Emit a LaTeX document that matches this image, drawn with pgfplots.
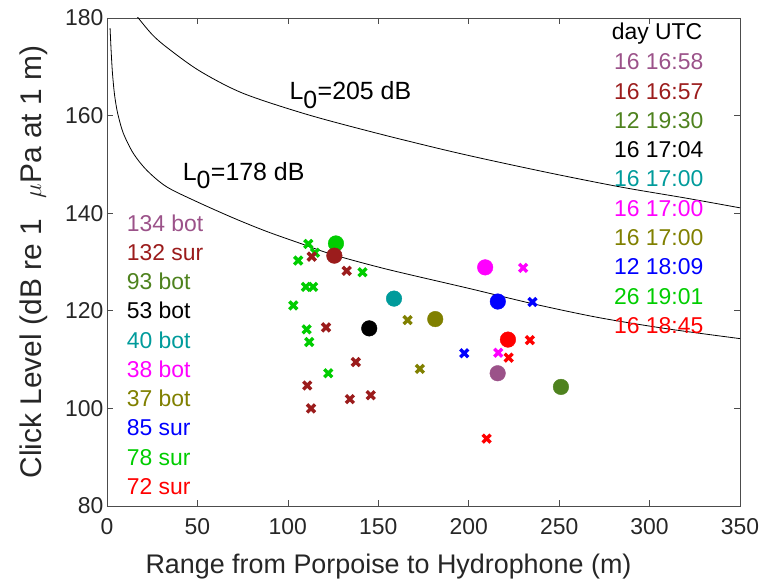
\documentclass[border=0pt]{standalone}
\usepackage{fontspec}
\setmainfont{Liberation Sans}
\usepackage{pgfplots}
\pgfplotsset{compat=1.18}
\definecolor{cPurp}{RGB}{155,82,137}
\definecolor{cDRed}{RGB}{155,28,28}
\definecolor{cOGrn}{RGB}{78,130,30}
\definecolor{cTeal}{RGB}{0,155,155}
\definecolor{cMag}{RGB}{255,0,255}
\definecolor{cOliv}{RGB}{128,128,0}
\definecolor{cBlue}{RGB}{0,0,255}
\definecolor{cGrn}{RGB}{0,205,0}
\definecolor{cRed}{RGB}{255,0,0}
\definecolor{cTxt}{RGB}{38,38,38}
\newcommand{\lf}{\fontsize{23}{27}\selectfont}
\pgfplotsset{
  crs/.style={only marks, mark=x, mark size=5.6bp, line width=3.4bp, mark options={solid, line width=3.4bp}},
  dot/.style={only marks, mark=*, mark size=7.8bp},
}
\begin{document}
\begin{tikzpicture}
\begin{axis}[name=ax,
  width=633bp, height=488bp, scale only axis,
  xmin=0, xmax=350, ymin=80, ymax=180,
  xtick={0,50,...,350}, ytick={80,100,...,180},
  tick align=inside, major tick length=6bp,
  axis line style={black!70, line width=0.7bp},
  tick style={black!70, line width=0.7bp},
  /pgf/number format/assume math mode=true,
  ticklabel style={font=\fontsize{23}{27}\selectfont, text=cTxt},
  xticklabel style={yshift=-9bp},
  xlabel={Range from Porpoise to Hydrophone (m)},
  ylabel={Click Level (dB re 1\hspace{0.7em}$\mu$Pa at 1 m)},
  xlabel style={font=\fontsize{27}{31}\selectfont, text=cTxt, yshift=-12bp, xshift=-35bp},
  ylabel style={font=\fontsize{30}{34}\selectfont, text=cTxt, yshift=11bp},
]
% model curves
\addplot[black, line width=0.8bp, smooth, tension=0.5] coordinates {
(1.7,177.9) (2.3,173.2) (3.0,168.8) (4.0,164.8) (5.0,162.2) (6.2,160.0) (9,156.4) (14.5,152.3) (22,148.8) (33,145.4) (50,142.3) (70,139.0) (88,136.3) (107,133.8) (125,131.5) (155,128.5) (200,124.6) (236,121.4) (272,118.6) (310,116.3) (350,114.3)};
\addplot[black, line width=0.8bp, smooth, tension=0.5] coordinates {
(15,181.3) (17.3,180) (25,176.6) (33,174.0) (51,169.2) (75,164.6) (110,160.3) (147,156.6) (184,153.2) (210,151.0) (248,148.0) (285,145.3) (320,143.1) (350,141.1)};
% crosses
\addplot[crs, cRed] coordinates {(233.8,114.0) (222.1,110.4) (209.9,93.8)};
\addplot[crs, cGrn] coordinates {
(111.3,133.7) (115.0,131.9) (105.7,130.3) (141.3,127.9) (110.0,124.9) (114.0,124.9) (103.0,121.1) (110.4,116.2) (111.8,113.6) (122.3,107.2)};
\addplot[crs, cBlue] coordinates {(235.3,121.8) (197.5,111.3)};
\addplot[crs, cOliv] coordinates {(166.2,118.1) (173.0,108.1)};
\addplot[crs, cMag] coordinates {(230.1,128.8) (216.3,111.4)};
\addplot[crs, cDRed] coordinates {
(113.2,131.1) (132.5,128.2) (121.1,116.6) (137.6,109.5) (110.7,104.7) (112.8,100.0) (134.3,101.9) (145.8,102.7)};
% circles
\addplot[dot, cRed] coordinates {(221.7,114.1)};
\addplot[dot, cGrn] coordinates {(126.6,133.8)};
\addplot[dot, cBlue] coordinates {(216.1,121.9)};
\addplot[dot, cOliv] coordinates {(181.5,118.3)};
\addplot[dot, cMag] coordinates {(209.1,128.9)};
\addplot[dot, cTeal] coordinates {(158.7,122.5)};
\addplot[dot, black] coordinates {(145.0,116.4)};
\addplot[dot, cOGrn] coordinates {(251.0,104.4)};
\addplot[dot, cDRed] coordinates {(125.7,131.3)};
\addplot[dot, cPurp] coordinates {(216.0,107.2)};
% curve labels
\node[anchor=base west, inner sep=0pt, font=\fontsize{25}{29}\selectfont] at (axis cs:100.8,163.3) {L$_{\textrm{0}}$=205 dB};
\node[anchor=base west, inner sep=0pt, font=\fontsize{25}{29}\selectfont] at (axis cs:41.8,146.8) {L$_{\textrm{0}}$=178 dB};
% left legend
\node[anchor=west, inner sep=0pt, font=\lf, text=cPurp] at (axis cs:10.9,138) {134 bot};
\node[anchor=west, inner sep=0pt, font=\lf, text=cDRed] at (axis cs:10.9,132) {132 sur};
\node[anchor=west, inner sep=0pt, font=\lf, text=cOGrn] at (axis cs:10.9,126) {93 bot};
\node[anchor=west, inner sep=0pt, font=\lf, text=black] at (axis cs:10.9,120) {53 bot};
\node[anchor=west, inner sep=0pt, font=\lf, text=cTeal] at (axis cs:10.9,114) {40 bot};
\node[anchor=west, inner sep=0pt, font=\lf, text=cMag] at (axis cs:10.9,108) {38 bot};
\node[anchor=west, inner sep=0pt, font=\lf, text=cOliv] at (axis cs:10.9,102) {37 bot};
\node[anchor=west, inner sep=0pt, font=\lf, text=cBlue] at (axis cs:10.9,96) {85 sur};
\node[anchor=west, inner sep=0pt, font=\lf, text=cGrn] at (axis cs:10.9,90) {78 sur};
\node[anchor=west, inner sep=0pt, font=\lf, text=cRed] at (axis cs:10.9,84) {72 sur};
% right legend
\node[anchor=west, inner sep=0pt, font=\lf, text=black] at (axis cs:279,176.9) {day UTC};
\node[anchor=west, inner sep=0pt, font=\lf, text=cPurp] at (axis cs:280.3,171) {16 16:58};
\node[anchor=west, inner sep=0pt, font=\lf, text=cDRed] at (axis cs:280.3,165) {16 16:57};
\node[anchor=west, inner sep=0pt, font=\lf, text=cOGrn] at (axis cs:280.3,159) {12 19:30};
\node[anchor=west, inner sep=0pt, font=\lf, text=black] at (axis cs:280.3,153) {16 17:04};
\node[anchor=west, inner sep=0pt, font=\lf, text=cTeal] at (axis cs:280.3,147) {16 17:00};
\node[anchor=west, inner sep=0pt, font=\lf, text=cMag] at (axis cs:280.3,141) {16 17:00};
\node[anchor=west, inner sep=0pt, font=\lf, text=cOliv] at (axis cs:280.3,135) {16 17:00};
\node[anchor=west, inner sep=0pt, font=\lf, text=cBlue] at (axis cs:280.3,129) {12 18:09};
\node[anchor=west, inner sep=0pt, font=\lf, text=cGrn] at (axis cs:280.3,123) {26 19:01};
\node[anchor=west, inner sep=0pt, font=\lf, text=cRed] at (axis cs:280.3,117) {16 18:45};
\end{axis}
\pgfresetboundingbox
\path ([xshift=-107bp,yshift=-77bp]ax.south west) rectangle ([xshift=19bp,yshift=18bp]ax.north east);
\end{tikzpicture}
\end{document}
